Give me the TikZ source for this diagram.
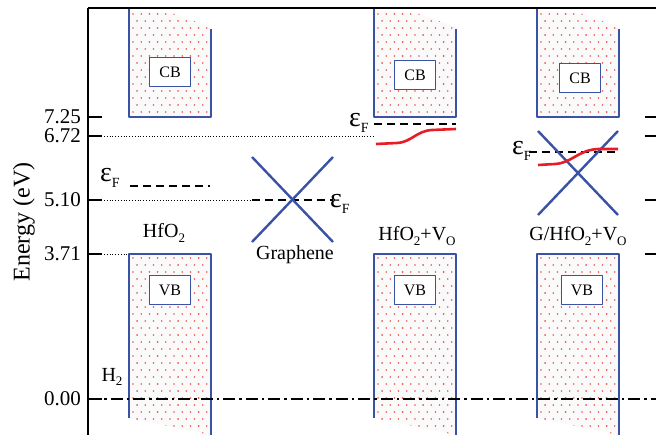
\documentclass[tikz,border=0pt]{standalone}
\usepackage{fontspec}
\setmainfont{Liberation Serif}
\definecolor{bandblue}{RGB}{58,82,164}
\definecolor{dotred}{RGB}{240,80,70}
\definecolor{dosred}{RGB}{232,28,36}
\newcommand{\lowidx}[1]{\raisebox{-0.5ex}{\fontsize{13}{13}\selectfont #1}}
\newcommand{\fermi}{{\fontsize{28}{28}\selectfont ε}\raisebox{-0.6ex}{\fontsize{14}{14}\selectfont F}}
% dots of a band: #1 left x, #2 top y, #3 rows
\newcommand{\banddots}[3]{%
  \foreach \j in {0,...,#3}{%
    \pgfmathsetmacro\dx{mod(\j,2)*4.1}
    \foreach \i in {0,...,9}
      \fill[dotred] ({#1+4+\dx+8.2*\i},{#2+4+7*\j}) circle (0.9pt);}}

\begin{document}
\begin{tikzpicture}[x=1pt, y=-1pt, line join=round,
  bandedge/.style={draw=bandblue, line width=2.2pt},
  cone/.style={bandblue, line width=2.4pt},
  tagbox/.style={draw=bandblue, line width=1.1pt, fill=white, minimum width=41pt, minimum height=29pt, inner sep=0pt, font=\fontsize{16}{16}\selectfont},
  fermiline/.style={line width=1.8pt, dash pattern=on 8pt off 5pt},
  guide/.style={line width=0.8pt, dash pattern=on 0.8pt off 2pt},
  axlab/.style={anchor=east, inner sep=0pt, font=\fontsize{21}{21}\selectfont},
  matlab/.style={inner sep=0pt, font=\fontsize{20}{20}\selectfont},
  dos/.style={dosred, line width=2.6pt}]
\useasboundingbox (0,0) rectangle (656,435);

% bands
\foreach \xl in {129,374,537}{
  \begin{scope}
    \clip (\xl,10) -- (\xl+46,14) -- (\xl+82,27) -- (\xl+82,117) -- (\xl,117) -- cycle;
    \fill[gray!4] (\xl,0) rectangle (\xl+82,120);
    \banddots{\xl}{10}{16}
  \end{scope}
  \begin{scope}
    \clip (\xl,254) -- (\xl+82,254) -- (\xl+82,435) -- (\xl,418) -- cycle;
    \fill[gray!4] (\xl,250) rectangle (\xl+82,435);
    \banddots{\xl}{254}{26}
  \end{scope}
  \draw[bandedge] (\xl,9) -- (\xl,117) -- (\xl+82,117) -- (\xl+82,29);
  \draw[bandedge] (\xl,418) -- (\xl,254) -- (\xl+82,254) -- (\xl+82,435);
}
\node[tagbox] (cb1) at (170,72) {CB};
\node[tagbox] (cb2) at (415,75) {CB};
\node[tagbox] (cb3) at (580,78) {CB};
\node[tagbox] (vb1) at (170,290) {VB};
\node[tagbox] (vb2) at (415,290) {VB};
\node[tagbox] (vb3) at (582,290) {VB};

% axes
\draw[line width=1.4pt] (88,8) -- (656,8);
\draw[line width=2pt] (88,8) -- (88,435);
\foreach \y/\lab [count=\k] in {117/7.25,136/6.72,200/5.10,254/3.71,399/0.00}{
  \draw[line width=2pt] (88,\y) -- (102,\y);
  \node[axlab] (tick\k) at (81,\y) {\lab};}
\foreach \y in {117,136,200,254}
  \draw[line width=2pt] (645,\y) -- (656,\y);
\node[rotate=90, font=\fontsize{24}{24}\selectfont] (ylab) at (24,222) {Energy (eV)};

% guides
\draw[guide] (104,136) -- (374,136);
\draw[guide] (104,200) -- (252,200);
\draw[guide] (104,254) -- (128,254);
\draw[line width=1.8pt, dash pattern=on 12pt off 4pt on 2.5pt off 4pt] (88,399) -- (656,399);
\node[matlab] (htwo) at (112,377) {H\lowidx{2}};

% Fermi levels
\draw[fermiline] (130,186) -- (210,186);
\node[matlab, anchor=west] (ef1) at (100,178) {\fermi};
\draw[fermiline] (252,200) -- (333,200);
\draw[cone] (252,157) -- (333,242);
\draw[cone] (333,157) -- (252,242);
\node[matlab, anchor=west] (ef2) at (330,204) {\fermi};
\draw[fermiline] (374,124) -- (456,124);
\node[matlab, anchor=west] (ef3) at (349,123) {\fermi};
\draw[dos] (376,144) -- (397,143) .. controls (412,142) and (416,131) .. (432,130) -- (456,129);
\draw[fermiline] (529,152) -- (618,152);
\draw[cone] (538,131) -- (618,215);
\draw[cone] (618,131) -- (538,215);
\node[matlab, anchor=west] (ef4) at (512,151) {\fermi};
\draw[dos] (538,165) -- (555,164) .. controls (572,163) and (578,150) .. (598,149) -- (618,149);

% materials
\node[matlab, anchor=base] (hfo) at (164,238) {HfO\lowidx{2}};
\node[matlab, anchor=base] (gra) at (295,260) {Graphene};
\node[matlab, anchor=base] (hfov) at (417,241) {HfO\lowidx{2}+V\lowidx{O}};
\node[matlab, anchor=base] (ghfov) at (578,241) {G/HfO\lowidx{2}+V\lowidx{O}};
\end{tikzpicture}
\end{document}
